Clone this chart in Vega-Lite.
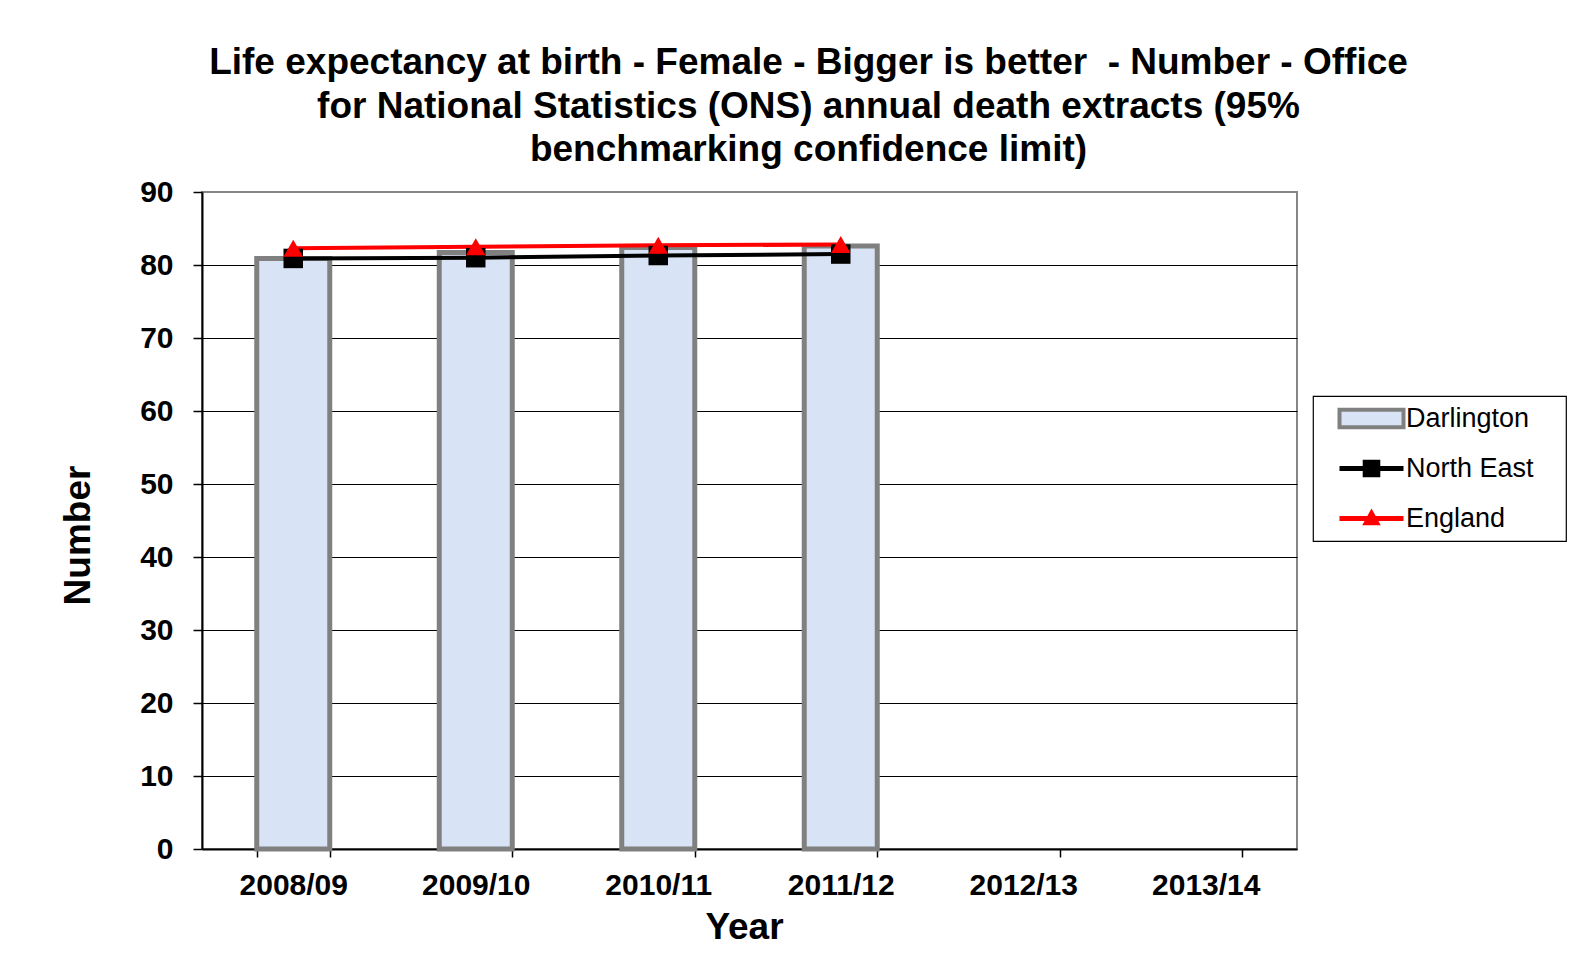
{
  "$schema": "https://vega.github.io/schema/vega-lite/v6.json",
  "width": 1095,
  "height": 657,
  "autosize": {"type": "none"},
  "padding": {"left": 202, "top": 192, "right": 286, "bottom": 112},
  "background": "white",
  "config": {
    "font": "Liberation Sans",
    "view": {"stroke": "#868686", "strokeWidth": 2},
    "legend": {
      "title": null,
      "orient": "none",
      "legendX": 1111,
      "legendY": 204,
      "direction": "vertical",
      "gridAlign": "all",
      "strokeColor": "black",
      "fillColor": "white",
      "padding": 9,
      "symbolSize": 1024,
      "symbolOffset": 36,
      "labelOffset": 21,
      "rowPadding": 18,
      "labelFontSize": 27,
      "labelColor": "black",
      "labelFont": "Liberation Sans",
      "symbolStrokeWidth": 4
    }
  },
  "title": {
    "text": ["Life expectancy at birth - Female - Bigger is better\u00a0 - Number - Office", "for National Statistics (ONS) annual death extracts (95%", "benchmarking confidence limit)"],
    "font": "Liberation Sans",
    "fontSize": 37,
    "fontWeight": "bold",
    "lineHeight": 43.5,
    "anchor": "middle",
    "dx": 59,
    "offset": 8,
    "color": "black"
  },
  "data": {
    "values": [
      {"year": "2008/09", "series": "Darlington", "value": 80.9},
      {"year": "2009/10", "series": "Darlington", "value": 81.7},
      {"year": "2010/11", "series": "Darlington", "value": 82.4},
      {"year": "2011/12", "series": "Darlington", "value": 82.6},
      {"year": "2008/09", "series": "North East", "value": 80.9},
      {"year": "2009/10", "series": "North East", "value": 81.0},
      {"year": "2010/11", "series": "North East", "value": 81.3},
      {"year": "2011/12", "series": "North East", "value": 81.5},
      {"year": "2008/09", "series": "England", "value": 82.3},
      {"year": "2009/10", "series": "England", "value": 82.5},
      {"year": "2010/11", "series": "England", "value": 82.7},
      {"year": "2011/12", "series": "England", "value": 82.8}
    ]
  },
  "encoding": {
    "x": {
      "field": "year",
      "type": "ordinal",
      "scale": {"domain": ["2008/09", "2009/10", "2010/11", "2011/12", "2012/13", "2013/14"], "paddingInner": 0.6, "paddingOuter": 0.3},
      "axis": {
        "title": "Year",
        "titleFontSize": 37,
        "titleFontWeight": "bold",
        "titleColor": "black",
        "titlePadding": 9,
        "titleX": 542,
        "labelFontSize": 30,
        "labelFontWeight": "bold",
        "labelColor": "black",
        "labelAngle": 0,
        "labelPadding": 13,
        "tickBand": "extent",
        "tickSize": 8,
        "tickColor": "black",
        "tickWidth": 1.5,
        "domainColor": "black",
        "domainWidth": 2
      }
    },
    "y": {
      "field": "value",
      "type": "quantitative",
      "scale": {"domain": [0, 90], "nice": false},
      "axis": {
        "title": "Number",
        "titleFontSize": 37,
        "titleFontWeight": "bold",
        "titleColor": "black",
        "titlePadding": 42,
        "titleY": 343,
        "values": [0, 10, 20, 30, 40, 50, 60, 70, 80, 90],
        "labelFontSize": 30,
        "labelFontWeight": "bold",
        "labelColor": "black",
        "labelPadding": 20,
        "tickSize": 9,
        "tickColor": "black",
        "tickWidth": 1.5,
        "domainColor": "black",
        "domainWidth": 2,
        "grid": true,
        "gridColor": "black",
        "gridWidth": 1.2,
        "gridOpacity": {"condition": {"test": "datum.value === 90 || datum.value === 0", "value": 0}, "value": 1}
      }
    }
  },
  "layer": [
    {
      "transform": [{"filter": "datum.series === 'Darlington'"}],
      "mark": {"type": "bar", "stroke": "#808080", "strokeWidth": 5, "opacity": 1},
      "encoding": {
        "fill": {
          "field": "series",
          "type": "nominal",
          "scale": {"domain": ["Darlington", "North East", "England"], "range": ["#d8e4f5", "#000000", "#ff0000"]},
          "legend": {
            "labelExpr": "datum.label + '\u00a0\u00a0\u00a0\u200b'",
            "encode": {
              "legend": {"update": {"strokeWidth": {"value": 1.2}}},
              "symbols": {
                "update": {
                  "shape": {"signal": "datum.value === 'Darlington' ? 'M-2,-0.55H2V0.55H-2Z' : datum.value === 'North East' ? 'M-2,-0.15H2V0.15H-2Z M-0.55,-0.55H0.55V0.55H-0.55Z' : 'M-2,-0.15H2V0.15H-2Z M0,-0.62L0.58,0.42H-0.58Z'"},
                  "strokeWidth": {"signal": "datum.value === 'Darlington' ? 4 : 0"},
                  "opacity": {"value": 1},
                  "fillOpacity": {"value": 1},
                  "strokeOpacity": {"value": 1}
                }
              }
            }
          }
        }
      }
    },
    {
      "transform": [{"filter": "datum.series !== 'Darlington'"}],
      "mark": {"type": "line", "strokeWidth": 4},
      "encoding": {
        "order": {"field": "year"},
        "stroke": {
          "field": "series",
          "type": "nominal",
          "scale": {"domain": ["Darlington", "North East", "England"], "range": ["#808080", "#000000", "#ff0000"]},
          "legend": {
            "labelExpr": "datum.label + '\u00a0\u00a0\u00a0\u200b'",
            "encode": {
              "legend": {"update": {"strokeWidth": {"value": 1.2}}},
              "symbols": {
                "update": {
                  "shape": {"signal": "datum.value === 'Darlington' ? 'M-2,-0.55H2V0.55H-2Z' : datum.value === 'North East' ? 'M-2,-0.15H2V0.15H-2Z M-0.55,-0.55H0.55V0.55H-0.55Z' : 'M-2,-0.15H2V0.15H-2Z M0,-0.62L0.58,0.42H-0.58Z'"},
                  "strokeWidth": {"signal": "datum.value === 'Darlington' ? 4 : 0"},
                  "opacity": {"value": 1},
                  "fillOpacity": {"value": 1},
                  "strokeOpacity": {"value": 1}
                }
              }
            }
          }
        }
      }
    },
    {
      "transform": [{"filter": "datum.series !== 'Darlington'"}],
      "mark": {"type": "point", "filled": true, "opacity": 1, "size": 380},
      "encoding": {
        "fill": {"field": "series", "type": "nominal"},
        "shape": {
          "field": "series",
          "type": "nominal",
          "scale": {"domain": ["North East", "England"], "range": ["square", "triangle-up"]},
          "legend": null
        }
      }
    }
  ]
}
